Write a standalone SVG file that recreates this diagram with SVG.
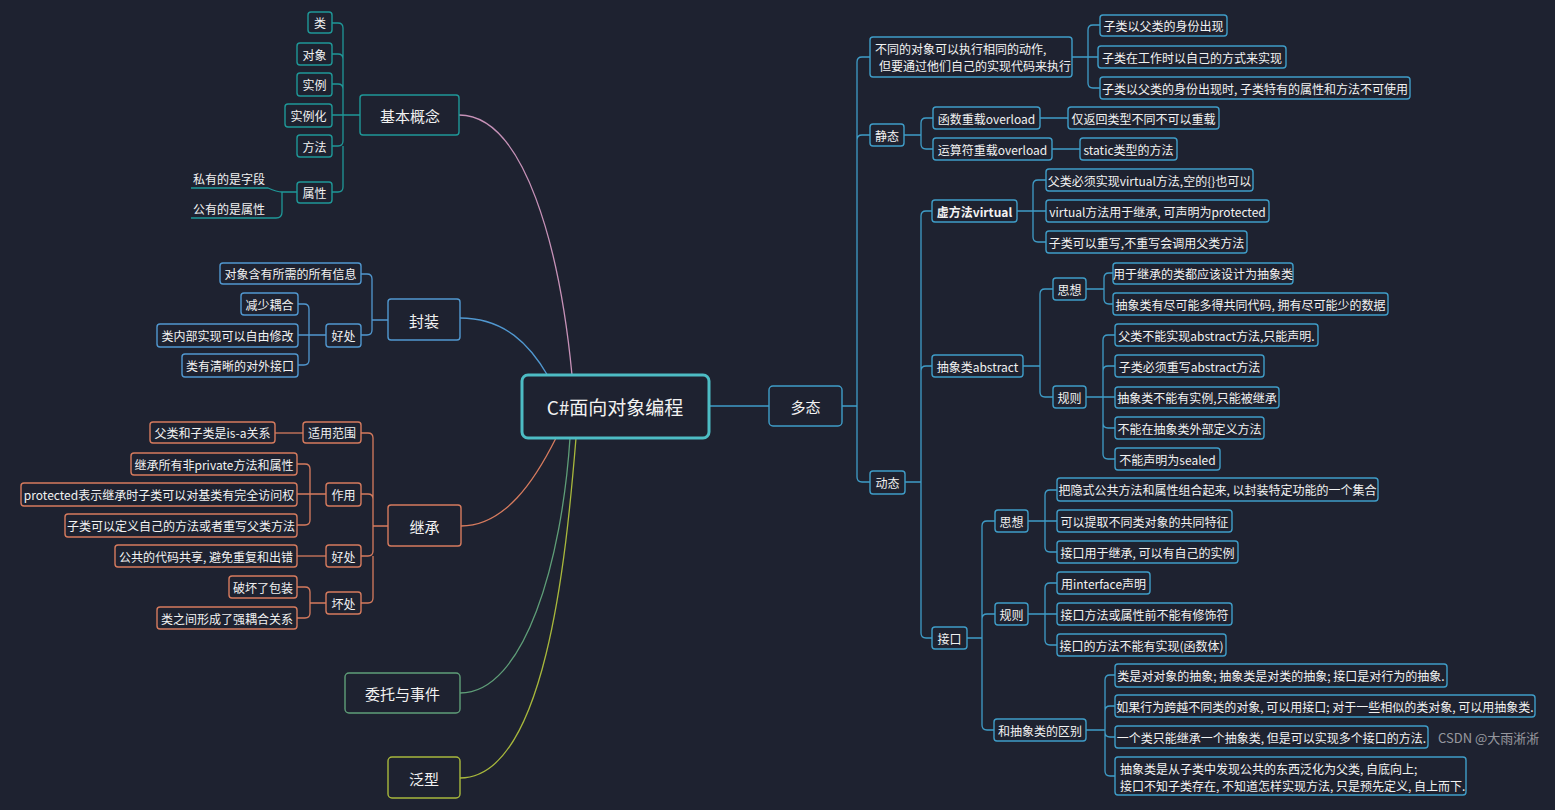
<svg xmlns="http://www.w3.org/2000/svg" width="1555" height="810" viewBox="0 0 1555 810">
<style>
.t{font-family:"Noto Sans CJK SC","Noto Sans",sans-serif;font-size:12px;fill:#f2f2f2;text-anchor:middle;dominant-baseline:central}
.tl{text-anchor:start}
.t15{font-size:15px}
.b{fill:#1e2230;stroke-width:1.4}
.ln{fill:none;stroke-width:1.3}
.teal{stroke:#1f9898}
.blue{stroke:#5198d0}
.org{stroke:#d67b5e}
.grn{stroke:#5f9e78}
.lime{stroke:#a8b83c}
.poly{stroke:#3f9dc8}
.pink{stroke:#c792b8}
</style>
<rect width="1555" height="810" fill="#1e2230"/>
<g id="connectors">
<path class="ln poly" d="M709 406 H769"/>
<path class="ln pink" d="M459 115 C525 115 560 250 572 375"/>
<path class="ln blue" d="M460 318 C505 318 530 345 548 376"/>
<path class="ln org" d="M461 526 C505 526 535 480 556 438"/>
<path class="ln grn" d="M460 693 C525 693 562 560 570 438"/>
<path class="ln lime" d="M460 778 C545 778 566 560 576 438"/>
<path class="ln teal" d="M360 115 H343 V28 Q343 23 338 23 H332 M343 59 Q343 54 338 54 H332 M343 89 Q343 84 338 84 H332 M343 115 H332 M343 115 V141 Q343 146 338 146 H332 M343 146 V187 Q343 192 338 192 H332"/>
<path class="ln teal" d="M297 192 H282 Q277 192 268 188 H191 M282 192 V212 Q282 218 276 218 H191"/>
<path class="ln blue" d="M388 320 H372 V279 Q372 274 367 274 H361 M372 320 V330 Q372 335 367 335 H361"/>
<path class="ln blue" d="M326 335 H298 M309 335 V309 Q309 304 304 304 H298 M309 335 V360 Q309 365 304 365 H298"/>
<path class="ln org" d="M388 526 H373 V438 Q373 433 368 433 H361 M373 499 Q373 494 368 494 H361 M373 526 V551 Q373 556 368 556 H361 M373 556 V598 Q373 603 368 603 H361"/>
<path class="ln org" d="M303 433 H275"/>
<path class="ln org" d="M326 494 H297 M310 494 V469 Q310 464 305 464 H297 M310 494 V520 Q310 525 305 525 H297"/>
<path class="ln org" d="M326 556 H297"/>
<path class="ln org" d="M326 603 H310 V592 Q310 587 305 587 H297 M310 603 V613 Q310 618 305 618 H297"/>
<path class="ln poly" d="M842 406 H857 V62 Q857 57 862 57 H870 M857 140 Q857 135 862 135 H870 M857 406 V477 Q857 482 862 482 H870"/>
<path class="ln poly" d="M1072 57 H1098 M1088 57 V30 Q1088 25 1093 25 H1100 M1088 57 V83 Q1088 88 1093 88 H1100"/>
<path class="ln poly" d="M904 135 H921 V123 Q921 118 926 118 H933 M921 135 V144 Q921 149 926 149 H933"/>
<path class="ln poly" d="M1040 118 H1068 M1052 149 H1080"/>
<path class="ln poly" d="M905 482 H921 V216 Q921 211 926 211 H932 M921 482 V371 Q921 366 926 366 H932 M921 482 V633 Q921 638 926 638 H932"/>
<path class="ln poly" d="M1017 211 H1046 M1033 211 V185 Q1033 180 1038 180 H1046 M1033 211 V237 Q1033 242 1038 242 H1046"/>
<path class="ln poly" d="M1023 366 H1040 V294 Q1040 289 1045 289 H1053 M1040 366 V392 Q1040 397 1045 397 H1053"/>
<path class="ln poly" d="M1086 289 H1104 V278 Q1104 273 1109 273 H1113 M1104 289 V299 Q1104 304 1109 304 H1113"/>
<path class="ln poly" d="M1086 397 H1115 M1103 397 V340 Q1103 335 1108 335 H1115 M1103 371 Q1103 366 1108 366 H1115 M1103 397 V454 Q1103 459 1108 459 H1115 M1103 423 Q1103 428 1108 428 H1115"/>
<path class="ln poly" d="M967 638 H982 V526 Q982 521 987 521 H995 M982 619 Q982 614 987 614 H995 M982 638 V725 Q982 730 987 730 H994"/>
<path class="ln poly" d="M1028 521 H1057 M1045 521 V495 Q1045 490 1050 490 H1057 M1045 521 V547 Q1045 552 1050 552 H1057"/>
<path class="ln poly" d="M1028 614 H1057 M1045 614 V588 Q1045 583 1050 583 H1057 M1045 614 V640 Q1045 645 1050 645 H1057"/>
<path class="ln poly" d="M1086 730 H1105 V680 Q1105 675 1110 675 H1115 M1105 711 Q1105 706 1110 706 H1115 M1105 730 V732 Q1105 737 1110 737 H1115 M1105 730 V771 Q1105 776 1110 776 H1115"/>
</g>
<g id="center"><rect x="522" y="375" width="187" height="63" rx="6" fill="#1e2230" stroke="#4dbcc4" stroke-width="3"/><text class="t" x="615" y="406" style="font-size:19px">C#面向对象编程</text></g>
<g id="n-jbgn"><rect class="b teal" x="360" y="95" width="99" height="40" rx="3"/><text class="t t15" x="410" y="115">基本概念</text></g>
<g id="n-lei"><rect class="b teal" x="308" y="12" width="24" height="21" rx="3"/><text class="t" x="320" y="22.5">类</text></g>
<g id="n-dx"><rect class="b teal" x="297" y="43" width="35" height="22" rx="3"/><text class="t" x="314.5" y="54">对象</text></g>
<g id="n-sl"><rect class="b teal" x="297" y="73" width="35" height="23" rx="3"/><text class="t" x="314.5" y="84.5">实例</text></g>
<g id="n-slh"><rect class="b teal" x="285" y="104" width="47" height="23" rx="3"/><text class="t" x="308.5" y="115.5">实例化</text></g>
<g id="n-ff"><rect class="b teal" x="297" y="135" width="35" height="22" rx="3"/><text class="t" x="314.5" y="146">方法</text></g>
<g id="n-sx"><rect class="b teal" x="297" y="182" width="35" height="21" rx="3"/><text class="t" x="314.5" y="192.5">属性</text></g>
<g id="n-syzd"><text class="t tl" x="193" y="178">私有的是字段</text></g>
<g id="n-gysx"><text class="t tl" x="193" y="208">公有的是属性</text></g>
<g id="n-fz"><rect class="b blue" x="388" y="299" width="72" height="41" rx="3"/><text class="t t15" x="424" y="320">封装</text></g>
<g id="n-fz1"><rect class="b blue" x="220" y="263" width="141" height="21" rx="3"/><text class="t" x="290.5" y="273.5">对象含有所需的所有信息</text></g>
<g id="n-fzhc"><rect class="b blue" x="326" y="324" width="35" height="23" rx="3"/><text class="t" x="343.5" y="335.5">好处</text></g>
<g id="n-fz2"><rect class="b blue" x="241" y="293" width="57" height="22" rx="3"/><text class="t" x="269.5" y="304">减少耦合</text></g>
<g id="n-fz3"><rect class="b blue" x="157" y="324" width="141" height="23" rx="3"/><text class="t" x="227.5" y="335.5">类内部实现可以自由修改</text></g>
<g id="n-fz4"><rect class="b blue" x="182" y="354" width="116" height="23" rx="3"/><text class="t" x="240" y="365.5">类有清晰的对外接口</text></g>
<g id="n-jc"><rect class="b org" x="388" y="505" width="73" height="41" rx="3"/><text class="t t15" x="424.5" y="526">继承</text></g>
<g id="n-syfw"><rect class="b org" x="303" y="422" width="58" height="21" rx="3"/><text class="t" x="332" y="432.5">适用范围</text></g>
<g id="n-isa"><rect class="b org" x="150" y="422" width="125" height="21" rx="3"/><text class="t" x="212.5" y="432.5">父类和子类是is-a关系</text></g>
<g id="n-zy"><rect class="b org" x="326" y="483" width="35" height="23" rx="3"/><text class="t" x="343.5" y="494.5">作用</text></g>
<g id="n-zy1"><rect class="b org" x="131" y="453" width="166" height="22" rx="3"/><text class="t" x="214" y="464">继承所有非private方法和属性</text></g>
<g id="n-zy2"><rect class="b org" x="21" y="483" width="276" height="23" rx="3"/><text class="t" x="159" y="494.5">protected表示继承时子类可以对基类有完全访问权</text></g>
<g id="n-zy3"><rect class="b org" x="65" y="514" width="232" height="23" rx="3"/><text class="t" x="181" y="525.5">子类可以定义自己的方法或者重写父类方法</text></g>
<g id="n-jchc"><rect class="b org" x="326" y="545" width="35" height="22" rx="3"/><text class="t" x="343.5" y="556">好处</text></g>
<g id="n-hc1"><rect class="b org" x="115" y="545" width="182" height="22" rx="3"/><text class="t" x="206" y="556">公共的代码共享, 避免重复和出错</text></g>
<g id="n-huaichu"><rect class="b org" x="326" y="592" width="35" height="22" rx="3"/><text class="t" x="343.5" y="603">坏处</text></g>
<g id="n-hu1"><rect class="b org" x="229" y="576" width="68" height="22" rx="3"/><text class="t" x="263" y="587">破坏了包装</text></g>
<g id="n-hu2"><rect class="b org" x="157" y="607" width="140" height="22" rx="3"/><text class="t" x="227" y="618">类之间形成了强耦合关系</text></g>
<g id="n-wt"><rect class="b grn" x="345" y="673" width="115" height="40" rx="4"/><text class="t t15" x="402.5" y="693">委托与事件</text></g>
<g id="n-fx"><rect class="b lime" x="388" y="757" width="72" height="41" rx="4"/><text class="t t15" x="424" y="778">泛型</text></g>
<g id="n-dt"><rect class="b poly" x="769" y="386" width="73" height="40" rx="4"/><text class="t t15" x="805.5" y="406">多态</text></g>
<g id="n-def"><rect class="b poly" x="870" y="37" width="202" height="40" rx="3"/><text class="t tl" x="875" y="48">不同的对象可以执行相同的动作,</text><text class="t tl" x="879" y="65"> 但要通过他们自己的实现代码来执行</text></g>
<g id="n-d1"><rect class="b poly" x="1100" y="15" width="127" height="21" rx="3"/><text class="t" x="1163.5" y="25.5">子类以父类的身份出现</text></g>
<g id="n-d2"><rect class="b poly" x="1098" y="46" width="188" height="22" rx="3"/><text class="t" x="1192" y="57">子类在工作时以自己的方式来实现</text></g>
<g id="n-d3"><rect class="b poly" x="1100" y="77" width="310" height="22" rx="3"/><text class="t" x="1255" y="88">子类以父类的身份出现时, 子类特有的属性和方法不可使用</text></g>
<g id="n-jt"><rect class="b poly" x="870" y="124" width="34" height="22" rx="3"/><text class="t" x="887" y="135">静态</text></g>
<g id="n-hszz"><rect class="b poly" x="933" y="107" width="107" height="22" rx="3"/><text class="t" x="986.5" y="118">函数重载overload</text></g>
<g id="n-yszz"><rect class="b poly" x="933" y="138" width="119" height="22" rx="3"/><text class="t" x="992.5" y="149">运算符重载overload</text></g>
<g id="n-hsz1"><rect class="b poly" x="1068" y="107" width="151" height="22" rx="3"/><text class="t" x="1143.5" y="118">仅返回类型不同不可以重载</text></g>
<g id="n-ysz1"><rect class="b poly" x="1080" y="138" width="97" height="22" rx="3"/><text class="t" x="1128.5" y="149">static类型的方法</text></g>
<g id="n-dongt"><rect class="b poly" x="870" y="471" width="35" height="23" rx="3"/><text class="t" x="887.5" y="482.5">动态</text></g>
<g id="n-virt"><rect class="b poly" x="932" y="200" width="85" height="22" rx="3"/><text class="t" x="974.5" y="211" font-weight="bold">虚方法virtual</text></g>
<g id="n-v1"><rect class="b poly" x="1046" y="169" width="207" height="22" rx="3"/><text class="t" x="1149.5" y="180">父类必须实现virtual方法,空的{}也可以</text></g>
<g id="n-v2"><rect class="b poly" x="1046" y="200" width="223" height="22" rx="3"/><text class="t" x="1157.5" y="211">virtual方法用于继承, 可声明为protected</text></g>
<g id="n-v3"><rect class="b poly" x="1046" y="231" width="201" height="22" rx="3"/><text class="t" x="1146.5" y="242">子类可以重写,不重写会调用父类方法</text></g>
<g id="n-abs"><rect class="b poly" x="932" y="355" width="91" height="22" rx="3"/><text class="t" x="977.5" y="366">抽象类abstract</text></g>
<g id="n-absSx"><rect class="b poly" x="1053" y="278" width="33" height="22" rx="3"/><text class="t" x="1069.5" y="289">思想</text></g>
<g id="n-a1"><rect class="b poly" x="1113" y="263" width="180" height="21" rx="3"/><text class="t" x="1203" y="273.5">用于继承的类都应该设计为抽象类</text></g>
<g id="n-a2"><rect class="b poly" x="1113" y="293" width="275" height="22" rx="3"/><text class="t" x="1250.5" y="304">抽象类有尽可能多得共同代码, 拥有尽可能少的数据</text></g>
<g id="n-absGz"><rect class="b poly" x="1053" y="386" width="33" height="22" rx="3"/><text class="t" x="1069.5" y="397">规则</text></g>
<g id="n-r1"><rect class="b poly" x="1115" y="324" width="203" height="22" rx="3"/><text class="t" x="1216.5" y="335">父类不能实现abstract方法,只能声明.</text></g>
<g id="n-r2"><rect class="b poly" x="1115" y="355" width="149" height="22" rx="3"/><text class="t" x="1189.5" y="366">子类必须重写abstract方法</text></g>
<g id="n-r3"><rect class="b poly" x="1115" y="387" width="164" height="21" rx="3"/><text class="t" x="1197" y="397.5">抽象类不能有实例,只能被继承</text></g>
<g id="n-r4"><rect class="b poly" x="1115" y="417" width="149" height="22" rx="3"/><text class="t" x="1189.5" y="428">不能在抽象类外部定义方法</text></g>
<g id="n-r5"><rect class="b poly" x="1115" y="448" width="105" height="22" rx="3"/><text class="t" x="1167.5" y="459">不能声明为sealed</text></g>
<g id="n-jk"><rect class="b poly" x="932" y="627" width="35" height="22" rx="3"/><text class="t" x="949.5" y="638">接口</text></g>
<g id="n-jkSx"><rect class="b poly" x="995" y="510" width="33" height="22" rx="3"/><text class="t" x="1011.5" y="521">思想</text></g>
<g id="n-i1"><rect class="b poly" x="1057" y="478" width="321" height="23" rx="3"/><text class="t" x="1217.5" y="489.5">把隐式公共方法和属性组合起来, 以封装特定功能的一个集合</text></g>
<g id="n-i2"><rect class="b poly" x="1057" y="510" width="175" height="22" rx="3"/><text class="t" x="1144.5" y="521">可以提取不同类对象的共同特征</text></g>
<g id="n-i3"><rect class="b poly" x="1057" y="541" width="181" height="22" rx="3"/><text class="t" x="1147.5" y="552">接口用于继承, 可以有自己的实例</text></g>
<g id="n-jkGz"><rect class="b poly" x="995" y="603" width="33" height="22" rx="3"/><text class="t" x="1011.5" y="614">规则</text></g>
<g id="n-g1"><rect class="b poly" x="1057" y="572" width="93" height="22" rx="3"/><text class="t" x="1103.5" y="583">用interface声明</text></g>
<g id="n-g2"><rect class="b poly" x="1057" y="603" width="175" height="22" rx="3"/><text class="t" x="1144.5" y="614">接口方法或属性前不能有修饰符</text></g>
<g id="n-g3"><rect class="b poly" x="1057" y="634" width="169" height="22" rx="3"/><text class="t" x="1141.5" y="645">接口的方法不能有实现(函数体)</text></g>
<g id="n-qb"><rect class="b poly" x="994" y="719" width="92" height="22" rx="3"/><text class="t" x="1040" y="730">和抽象类的区别</text></g>
<g id="n-q1"><rect class="b poly" x="1115" y="664" width="332" height="23" rx="3"/><text class="t" x="1281" y="675.5">类是对对象的抽象; 抽象类是对类的抽象; 接口是对行为的抽象.</text></g>
<g id="n-q2"><rect class="b poly" x="1115" y="695" width="420" height="22" rx="3"/><text class="t" x="1325" y="706">如果行为跨越不同类的对象, 可以用接口; 对于一些相似的类对象, 可以用抽象类.</text></g>
<g id="n-q3"><rect class="b poly" x="1115" y="726" width="313" height="22" rx="3"/><text class="t" x="1271.5" y="737">一个类只能继承一个抽象类, 但是可以实现多个接口的方法.</text></g>
<g id="n-q4"><rect class="b poly" x="1115" y="757" width="351" height="38" rx="3"/><text class="t tl" x="1120" y="768">抽象类是从子类中发现公共的东西泛化为父类, 自底向上;</text><text class="t tl" x="1120" y="785">接口不知子类存在, 不知道怎样实现方法, 只是预先定义, 自上而下.</text></g>
<text class="t tl" x="1438" y="737" style="font-size:13px;fill:#ffffff;fill-opacity:0.55">CSDN @大雨淅淅</text>
</svg>
